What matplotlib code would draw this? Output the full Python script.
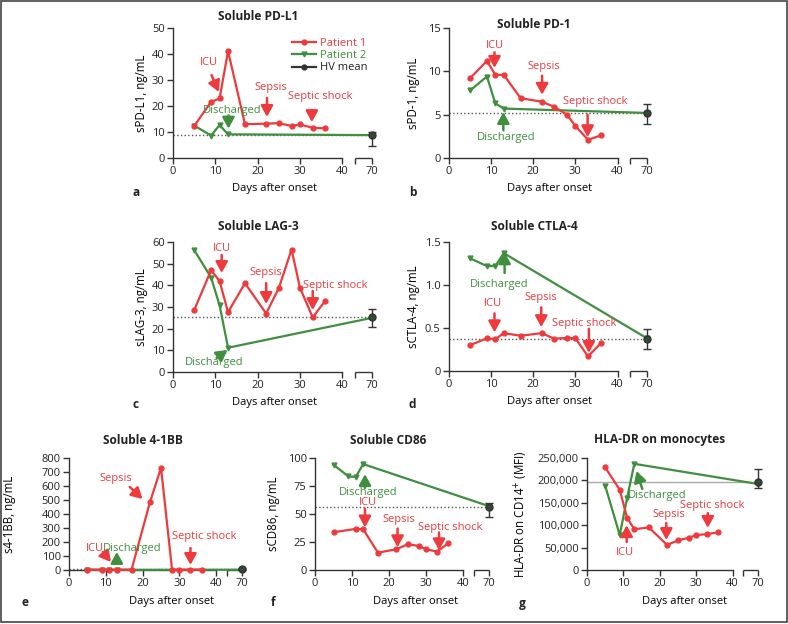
import numpy as np
import matplotlib
matplotlib.use("Agg")
import matplotlib.pyplot as plt
from matplotlib.patches import Rectangle

plt.rcParams['font.family'] = ['Open Sans', 'DejaVu Sans']
plt.rcParams['font.size'] = 8

RED = '#ee3a3d'
GREEN = '#3f8f3f'
DARK = '#333333'

days_p1 = [5, 9, 11, 13, 17, 22, 25, 28, 30, 33, 36]
days_p1_cd86 = [5, 11, 13, 17, 22, 25, 28, 30, 33, 36]
days_p2 = [5, 9, 11, 13, 70]
hv_day = 70

pdl1_p1 = [12.3, 21.6, 22.9, 41.1, 13.0, 13.2, 13.4, 12.3, 12.9, 11.6, 11.4]
pdl1_p2 = [12.5, 8.6, 12.7, 9.1, 8.8]
pdl1_hv, pdl1_hv_lo, pdl1_hv_hi = 8.8, 4.6, 10.1

pd1_p1 = [9.2, 11.2, 9.6, 9.6, 6.9, 6.5, 5.9, 5.0, 3.7, 2.1, 2.6]
pd1_p2 = [7.8, 9.4, 6.3, 5.7, 5.2]
pd1_hv, pd1_hv_lo, pd1_hv_hi = 5.2, 3.9, 6.2

lag3_p1 = [28.5, 47.0, 42.0, 27.6, 41.0, 27.0, 38.8, 56.5, 38.8, 25.2, 33.0]
lag3_p2 = [56.3, 43.6, 30.8, 11.2, 25.0]
lag3_hv, lag3_hv_lo, lag3_hv_hi = 25.2, 20.9, 28.9

ctla4_p1 = [0.30, 0.38, 0.37, 0.44, 0.41, 0.44, 0.375, 0.385, 0.38, 0.17, 0.32]
ctla4_p2 = [1.31, 1.22, 1.22, 1.37, 0.38]
ctla4_hv, ctla4_hv_lo, ctla4_hv_hi = 0.37, 0.26, 0.485

bb_p1 = [3, 2, 2, 2, 3, 485, 730, 2, 2, 2, 3]
bb_p2 = [2, 1, 1, 1, 2]
bb_hv, bb_hv_lo, bb_hv_hi = 4, 0, 12

cd86_p1 = [33.7, 36.7, 36.4, 15.5, 18.5, 23.0, 21.5, 18.5, 16.4, 23.9]
cd86_p2 = [94.0, 83.6, 83.0, 94.6, 57.0]
cd86_hv, cd86_hv_lo, cd86_hv_hi = 56.5, 47.0, 59.5

hla_p1 = [229000, 179000, 117000, 91000, 95000, 56000, 66000, 72000, 78000, 80000, 84000]
hla_p2 = [188000, 78000, 160000, 237000, 192000]
hla_hv, hla_hv_lo, hla_hv_hi = 196000, 183000, 226000

xticks = [0, 10, 20, 30, 40]


# broken x axis: 0-40 normal, 40-70 squeezed into 7 units
def fwd(x):
    x = np.asarray(x, dtype=float)
    return np.where(x <= 40, x, 40 + (x - 40) * 7 / 30)


def inv(x):
    x = np.asarray(x, dtype=float)
    return np.where(x <= 40, x, 40 + (x - 40) * 30 / 7)


BREAK_START = float(inv(43))

fig = plt.figure(figsize=(7.88, 6.24), dpi=100)
W, H = 788, 624


def make_ax(left, right, top, bottom):
    return fig.add_axes([left / W, 1 - bottom / H, (right - left) / W, (bottom - top) / H])


def panel(ax, d1, p1, p2, hv, lo, hi, ylim, yticks, yticklabels, ylabel,
          ylabel_x, xlabel_x, xlabel_y, notes, ref_style=':', ref_color='#555555'):
    ax.set_xscale('function', functions=(fwd, inv))
    ax.set_xlim(0, 70)
    ax.set_ylim(*ylim)
    ax.axhline(hv, color=ref_color, ls=ref_style, lw=1.0, zorder=1)
    ax.plot(days_p2, p2, color=GREEN, lw=1.6, marker='v', ms=3.5, zorder=3, clip_on=False)
    ax.plot(d1, p1, color=RED, lw=1.6, marker='o', ms=3.5, zorder=4, clip_on=False)
    ax.errorbar([hv_day], [hv], yerr=[[hv - lo], [hi - hv]], fmt='o', color=DARK,
                mfc='#2f4a35', ms=5, capsize=3, elinewidth=1, capthick=1,
                zorder=5, clip_on=False)
    for s in ['top', 'right']:
        ax.spines[s].set_visible(False)
    for s in ['left', 'bottom']:
        ax.spines[s].set_color(DARK)
        ax.spines[s].set_linewidth(1.0)
    ax.spines['bottom'].set_bounds(0, 40)
    ax.plot([BREAK_START, 70], [0, 0], transform=ax.get_xaxis_transform(),
            color=DARK, lw=1.0, clip_on=False, solid_capstyle='butt')
    ax.set_xticks(xticks + [BREAK_START, 70])
    ax.set_xticklabels([str(t) for t in xticks] + ['', '70'])
    ax.set_yticks(yticks)
    ax.set_yticklabels(yticklabels)
    ax.tick_params(direction='out', length=4, width=1, color=DARK, pad=2,
                   labelsize=8, labelcolor='#222222')
    ax.set_xlabel('Days after onset', fontsize=8)
    ax.set_ylabel(ylabel, fontsize=8.3)
    ax.yaxis.set_label_coords(ylabel_x, 0.5)
    ax.xaxis.set_label_coords(xlabel_x, xlabel_y)
    for text, col, txy, tail, head in notes:
        ax.text(txy[0], txy[1], text, color=col, ha='center', va='center',
                fontsize=8, zorder=6)
        ax.annotate('', xy=head, xytext=tail, zorder=6,
                    arrowprops=dict(arrowstyle='-|>,head_length=0.6,head_width=0.33',
                                    color=col, lw=1.8, mutation_scale=11,
                                    shrinkA=0, shrinkB=0))


# a
ax_a = make_ax(173, 372, 28, 158)
panel(ax_a, days_p1, pdl1_p1, pdl1_p2, pdl1_hv, pdl1_hv_lo, pdl1_hv_hi,
      (0, 50), [0, 10, 20, 30, 40, 50], ['0', '10', '20', '30', '40', '50'],
      'sPD-L1, ng/mL', -0.125, 0.51, -0.19,
      [('ICU', RED, (8.4, 36.9), (9.1, 31.9), (10.8, 25.4)),
       ('Discharged', GREEN, (14.0, 18.1), (13.1, 16.4), (13.1, 11.3)),
       ('Sepsis', RED, (23.0, 27.3), (22.2, 23.1), (22.2, 15.8)),
       ('Septic shock', RED, (34.7, 23.8), (32.8, 18.5), (32.8, 13.8))])
handles = [plt.Line2D([], [], color=RED, lw=1.6, marker='o', ms=3.5),
           plt.Line2D([], [], color=GREEN, lw=1.6, marker='v', ms=3.5),
           plt.Line2D([], [], color=DARK, lw=1.6, marker='o', ms=3.5)]
leg = ax_a.legend(handles, ['Patient 1', 'Patient 2', 'HV mean'], frameon=False,
                  loc='upper left', bbox_to_anchor=(0.6, 0.925), fontsize=8,
                  handlelength=2.1, labelspacing=0.12, handletextpad=0.35,
                  borderpad=0, borderaxespad=0)
for t, c in zip(leg.get_texts(), [RED, GREEN, '#222222']):
    t.set_color(c)

# b
ax_b = make_ax(449, 647, 28, 158)
panel(ax_b, days_p1, pd1_p1, pd1_p2, pd1_hv, pd1_hv_lo, pd1_hv_hi,
      (0, 15), [0, 5, 10, 15], ['0', '5', '10', '15'],
      'sPD-1, ng/mL', -0.145, 0.51, -0.19,
      [('ICU', RED, (10.8, 13.0), (10.8, 12.2), (10.8, 10.4)),
       ('Sepsis', RED, (22.6, 10.6), (22.1, 9.5), (22.1, 7.3)),
       ('Septic shock', RED, (34.8, 6.5), (32.9, 5.0), (32.9, 2.4)),
       ('Discharged', GREEN, (13.6, 2.4), (12.9, 3.2), (12.9, 5.3))])

# c
ax_c = make_ax(173, 372, 242, 372)
panel(ax_c, days_p1, lag3_p1, lag3_p2, lag3_hv, lag3_hv_lo, lag3_hv_hi,
      (0, 60), [0, 10, 20, 30, 40, 50, 60], ['0', '10', '20', '30', '40', '50', '60'],
      'sLAG-3, ng/mL', -0.125, 0.51, -0.19,
      [('ICU', RED, (11.5, 56.8), (11.5, 54.0), (11.5, 45.7)),
       ('Sepsis', RED, (22.0, 46.1), (22.0, 41.0), (22.0, 31.4)),
       ('Septic shock', RED, (38.4, 40.1), (33.0, 37.4), (33.0, 28.6)),
       ('Discharged', GREEN, (9.8, 4.2), (10.3, 6.5), (12.9, 10.2))])

# d
ax_d = make_ax(449, 647, 242, 371)
panel(ax_d, days_p1, ctla4_p1, ctla4_p2, ctla4_hv, ctla4_hv_lo, ctla4_hv_hi,
      (0, 1.5), [0, 0.5, 1.0, 1.5], ['0', '0.5', '1.0', '1.5'],
      'sCTLA-4, ng/mL', -0.145, 0.51, -0.19,
      [('Discharged', GREEN, (11.8, 1.0), (13.2, 1.14), (13.2, 1.38)),
       ('ICU', RED, (10.4, 0.78), (10.8, 0.67), (10.8, 0.45)),
       ('Sepsis', RED, (21.9, 0.86), (21.9, 0.74), (21.9, 0.51)),
       ('Septic shock', RED, (32.2, 0.55), (33.2, 0.49), (33.2, 0.21))])

# e
ax_e = make_ax(69, 242, 458, 570)
panel(ax_e, days_p1, bb_p1, bb_p2, bb_hv, bb_hv_lo, bb_hv_hi,
      (0, 800), list(range(0, 801, 100)), [str(v) for v in range(0, 801, 100)],
      's4-1BB, ng/mL', -0.305, 0.59, -0.23,
      [('Sepsis', RED, (12.7, 657), (16.5, 593), (20.0, 507)),
       ('ICU', RED, (7.0, 157), (9.2, 129), (11.4, 57)),
       ('Discharged', GREEN, (17.3, 157), (13.0, 57), (13.0, 129)),
       ('Septic shock', RED, (36.8, 236), (33.0, 157), (33.0, 36))])

# f
ax_f = make_ax(315, 489, 458, 570)
panel(ax_f, days_p1_cd86, cd86_p1, cd86_p2, cd86_hv, cd86_hv_lo, cd86_hv_hi,
      (0, 100), [0, 25, 50, 75, 100], ['0', '25', '50', '75', '100'],
      'sCD86, ng/mL', -0.2, 0.58, -0.23,
      [('Discharged', GREEN, (14.3, 68.8), (13.5, 73.3), (13.5, 85.6)),
       ('ICU', RED, (14.3, 60), (13.5, 54.7), (13.5, 38)),
       ('Sepsis', RED, (22.6, 45), (22.3, 37), (22.3, 20.3)),
       ('Septic shock', RED, (36.4, 38), (33.5, 33.5), (33.5, 17.6))])

# g
ax_g = make_ax(587, 758, 458, 570)
panel(ax_g, days_p1, hla_p1, hla_p2, hla_hv, hla_hv_lo, hla_hv_hi,
      (0, 250000), list(range(0, 250001, 50000)),
      ['0'] + [f'{v:,}' for v in range(50000, 250001, 50000)],
      'HLA-DR on CD14$^{+}$ (MFI)', -0.335, 0.57, -0.23,
      [('Discharged', GREEN, (19.3, 167000), (15.2, 181000), (13.6, 221000)),
       ('ICU', RED, (10.3, 40000), (10.9, 62500), (10.9, 100000)),
       ('Sepsis', RED, (22.6, 123000), (21.8, 105000), (21.8, 67000)),
       ('Septic shock', RED, (34.3, 143000), (33.2, 127000), (33.2, 94000))],
      ref_style='-', ref_color='#aaaaaa')

# titles and panel letters
titles = [('Soluble PD-L1', 258, 17), ('Soluble PD-1', 534, 25),
          ('Soluble LAG-3', 258, 227), ('Soluble CTLA-4', 534, 227),
          ('Soluble 4-1BB', 143, 440), ('Soluble CD86', 388, 440),
          ('HLA-DR on monocytes', 660, 440)]
for t, x, y in titles:
    fig.text(x / W, 1 - y / H, t, ha='center', va='center', fontsize=8.6,
             fontweight='bold', color='#222222')
letters = [('a', 136, 192), ('b', 413, 192), ('c', 136, 405), ('d', 412, 405),
           ('e', 25, 603), ('f', 273, 603), ('g', 522, 603)]
for t, x, y in letters:
    fig.text(x / W, 1 - y / H, t, ha='center', va='center', fontsize=8.6,
             fontweight='bold', color='#222222')

fig.patches.append(Rectangle((0.5 / W, 2 / H), (W - 1.5) / W, (H - 2.5) / H,
                             transform=fig.transFigure, fill=False,
                             edgecolor='#444444', lw=1.2))

fig.savefig('out.png', dpi=100)
